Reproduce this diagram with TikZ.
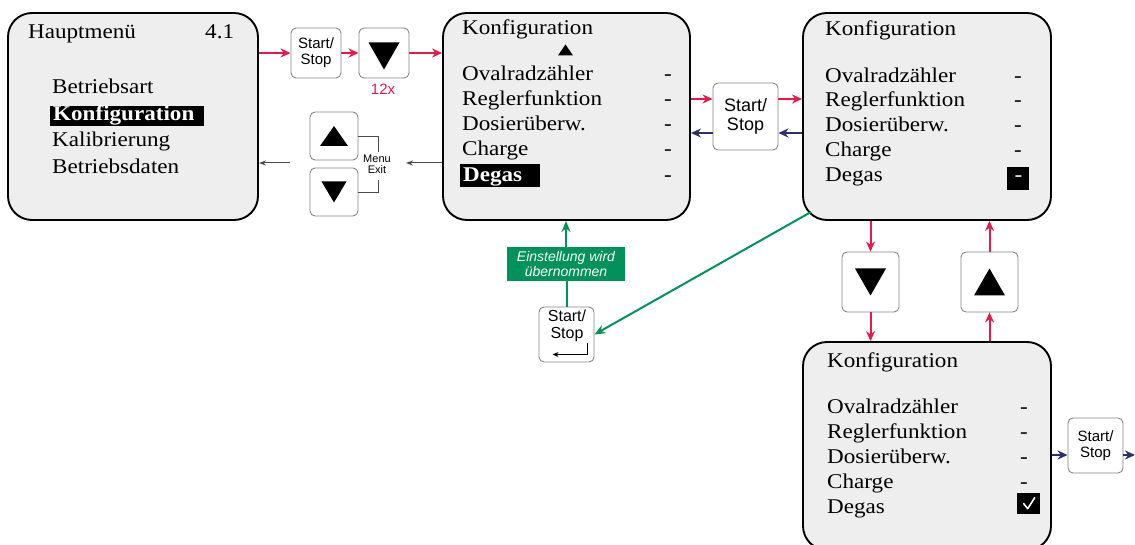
\documentclass[tikz,border=0pt]{standalone}
\usepackage{fontspec}
\setmainfont{Liberation Serif}[FakeStretch=1.1]
\setsansfont{Liberation Sans}
\usetikzlibrary{arrows.meta,calc}
\definecolor{scrfill}{HTML}{EEEEEE}
\definecolor{myred}{HTML}{E6194B}
\definecolor{mynavy}{HTML}{2D2F6B}
\definecolor{mygreen}{HTML}{00925A}
\definecolor{keyline}{HTML}{858585}
\definecolor{grayarr}{HTML}{4A4A4A}
\newcommand\trid[3]{\fill ($(#1)+(-#2/2,-#3/2)$) -- ($(#1)+(#2/2,-#3/2)$) -- ($(#1)+(0,#3/2)$) -- cycle;}
\newcommand\triu[3]{\fill ($(#1)+(-#2/2,#3/2)$) -- ($(#1)+(#2/2,#3/2)$) -- ($(#1)+(0,-#3/2)$) -- cycle;}
\tikzset{
  screen/.style={draw=black, line width=1.9pt, fill=scrfill, rounded corners=24pt, inner sep=0pt},
  keybox/.style={draw=keyline, line width=0.9pt, fill=white, rounded corners=5pt, inner sep=0pt, align=center, font=\sffamily\fontsize{15}{16}\selectfont},
  scrtxt/.style={anchor=base west, inner sep=0pt, font=\fontsize{21}{25}\selectfont},
  hltxt/.style={anchor=base west, inner sep=0pt, text=white, font=\bfseries\fontsize{21}{25}\selectfont},
  hlbox/.style={fill=black, anchor=north west, inner sep=0pt},
  redarr/.style={draw=myred, line width=2pt, -{Stealth[length=10pt,width=9pt]}},
  navyarr/.style={draw=mynavy, line width=2pt, -{Stealth[length=10pt,width=9pt]}},
  grayarrow/.style={draw=grayarr, line width=1pt, -{Stealth[length=7pt,width=5pt]}},
  greenarr/.style={draw=mygreen, line width=2pt, -{Stealth[length=11pt,width=9pt]}},
  greenline/.style={draw=mygreen, line width=2pt},
  bracket/.style={draw=grayarr, line width=0.7pt},
}
\begin{document}
\begin{tikzpicture}[x=1pt,y=-1pt]
\useasboundingbox (0,0) rectangle (1135,545);
\fill[white] (0,0) rectangle (1135,545);
\clip (0,0) rectangle (1135,545);

% screens
\node[screen, minimum width=250, minimum height=207] (s1) at (133,116.5) {};
\node[screen, minimum width=247, minimum height=207] (s2) at (566.5,116.5) {};
\node[screen, minimum width=248, minimum height=207] (s3) at (927,116.5) {};
\node[screen, minimum width=248, minimum height=208] (s4) at (927,446) {};

% screen 1
\node[scrtxt] (h1) at (28,39) {Hauptmenü};
\node[scrtxt] (h1v) at (205,39) {4.1};
\node[scrtxt] (m1) at (52,94) {Betriebsart};
\node[hlbox, minimum width=154, minimum height=20] (hl1) at (50,106) {};
\node[hltxt] (m2) at (53,121) {Konfiguration};
\node[scrtxt] (m3) at (52,147) {Kalibrierung};
\node[scrtxt] (m4) at (52,173.5) {Betriebsdaten};

% screen 2
\node[scrtxt] (h2) at (462,35) {Konfiguration};
\coordinate (tri2) at (565.5,50);
\triu{tri2}{15}{11}
\node[scrtxt] (a1) at (462,81) {Ovalradzähler};
\node[scrtxt] (a2) at (462,106) {Reglerfunktion};
\node[scrtxt] (a3) at (462,131) {Dosierüberw.};
\node[scrtxt] (a4) at (462,156) {Charge};
\node[hlbox, minimum width=80, minimum height=23] (hl2) at (460,164) {};
\node[hltxt] (a5) at (463,182) {Degas};
\node[scrtxt] (ad1) at (664,81) {-};
\node[scrtxt] (ad2) at (664,106) {-};
\node[scrtxt] (ad3) at (664,131) {-};
\node[scrtxt] (ad4) at (664,156) {-};
\node[scrtxt] (ad5) at (664,182) {-};

% screen 3
\node[scrtxt] (h3) at (825,36) {Konfiguration};
\node[scrtxt] (c1) at (825,83) {Ovalradzähler};
\node[scrtxt] (c2) at (825,107) {Reglerfunktion};
\node[scrtxt] (c3t) at (825,132) {Dosierüberw.};
\node[scrtxt] (c4) at (825,157) {Charge};
\node[scrtxt] (c5) at (825,182) {Degas};
\node[scrtxt] (cd1) at (1014,83) {-};
\node[scrtxt] (cd2) at (1014,107) {-};
\node[scrtxt] (cd3) at (1014,132) {-};
\node[scrtxt] (cd4) at (1014,157) {-};
\node[hlbox, minimum width=22, minimum height=23] (sq3) at (1007,167) {};
\node[scrtxt, text=white] (cd5) at (1014.5,182) {-};

% screen 4
\node[scrtxt] (h4) at (827,367) {Konfiguration};
\node[scrtxt] (e1) at (827,413) {Ovalradzähler};
\node[scrtxt] (e2) at (827,438) {Reglerfunktion};
\node[scrtxt] (e3) at (827,463) {Dosierüberw.};
\node[scrtxt] (e4) at (827,488) {Charge};
\node[scrtxt] (e5) at (827,513) {Degas};
\node[scrtxt] (ed1) at (1020,413) {-};
\node[scrtxt] (ed2) at (1020,438) {-};
\node[scrtxt] (ed3) at (1020,463) {-};
\node[scrtxt] (ed4) at (1020,488) {-};
\node[hlbox, minimum width=23, minimum height=21] (sq4) at (1017,493) {};
\draw[white, line width=1.6pt, line cap=round, line join=round] ($(sq4.center)+(-5,0)$) -- ($(sq4.center)+(-1,5)$) -- ($(sq4.center)+(6,-6)$);

% keys
\node[keybox, minimum width=50, minimum height=50] (b1) at (316,53) {Start/\\Stop};
\node[keybox, minimum width=50, minimum height=50] (b2) at (384,53) {};
\coordinate (tb2) at ($(b2)+(0,3)$);
\trid{tb2}{31}{27}
\node[text=myred, font=\sffamily\fontsize{15}{16}\selectfont, inner sep=0pt] (l12) at (383,89) {12x};
\node[keybox, minimum size=48] (bu) at (334,136) {};
\triu{bu}{28}{20}
\node[keybox, minimum size=48] (bd) at (334,192) {};
\trid{bd}{25}{21}
\node[font=\sffamily\fontsize{11}{11}\selectfont, align=center, inner sep=0pt] (me) at (377,164) {Menu\\Exit};
\coordinate (br1) at (378,152);
\coordinate (br2) at (378,180);
\draw[bracket] (bu.east) -| (br1);
\draw[bracket] (bd.east) -| (br2);

\node[keybox, minimum width=65, minimum height=67, font=\sffamily\fontsize{18}{19}\selectfont] (bm) at (745.5,116.5) {Start/\\Stop};
\node[keybox, minimum width=57, minimum height=60] (b3d) at (870.5,282) {};
\trid{b3d}{31}{27}
\node[keybox, minimum width=57, minimum height=60] (b3u) at (989.5,282) {};
\triu{b3u}{31}{27}
\node[keybox, minimum size=55] (b4) at (1095.5,445.5) {Start/\\Stop};
\node[keybox, minimum size=55] (be) at (566.5,334.5) {};
\node[font=\sffamily\fontsize{16}{17}\selectfont, align=center, inner sep=0pt] (bet) at (567,326) {Start/\\Stop};
\draw[line width=1.3pt, -{Stealth[length=6pt,width=5pt]}] ($(be.center)+(21,8)$) -- ($(be.center)+(21,20)$) -- ($(be.center)+(-14,20)$);

\node[fill=mygreen, text=white, font=\sffamily\itshape\fontsize{14}{15}\selectfont, align=center, minimum width=118, minimum height=34, inner sep=1pt] (gl) at (566,264) {Einstellung wird\\übernommen};

% connectors
\draw[redarr] (s1.east |- b1.west) -- (b1.west);
\draw[redarr] (b1.east) -- (b2.west);
\draw[redarr] (b2.east) -- (b2.east -| s2.west);
\coordinate (g1) at (406,163);
\coordinate (g2) at (290,163);
\draw[grayarrow] (s2.west |- g1) -- (g1);
\draw[grayarrow] (g2) -- (g2 -| s1.east);
\coordinate (r1) at (745.5,99);
\coordinate (n1) at (745.5,133);
\draw[redarr] (s2.east |- r1) -- (bm.west |- r1);
\draw[redarr] (bm.east |- r1) -- (s3.west |- r1);
\draw[navyarr] (s3.west |- n1) -- (bm.east |- n1);
\draw[navyarr] (bm.west |- n1) -- (s2.east |- n1);
\draw[redarr] (s3.south -| b3d) -- (b3d.north);
\draw[redarr] (b3d.south) -- (b3d.south |- s4.north);
\draw[redarr] (s4.north -| b3u) -- (b3u.south);
\draw[redarr] (b3u.north) -- (b3u.north |- s3.south);
\coordinate (n2) at (1095.5,455);
\coordinate (outr) at (1135,455);
\draw[navyarr] (s4.east |- n2) -- (b4.west |- n2);
\draw[navyarr] (b4.east |- n2) -- (outr);
\draw[greenline] (be.north) -- (be.north |- gl.south);
\draw[greenarr] (gl.north) -- (gl.north |- s2.south);
\coordinate (cc3) at ($(s3.south west)+(9,-9)$);
\draw[greenarr] (cc3) -- (be.east);
\end{tikzpicture}
\end{document}
